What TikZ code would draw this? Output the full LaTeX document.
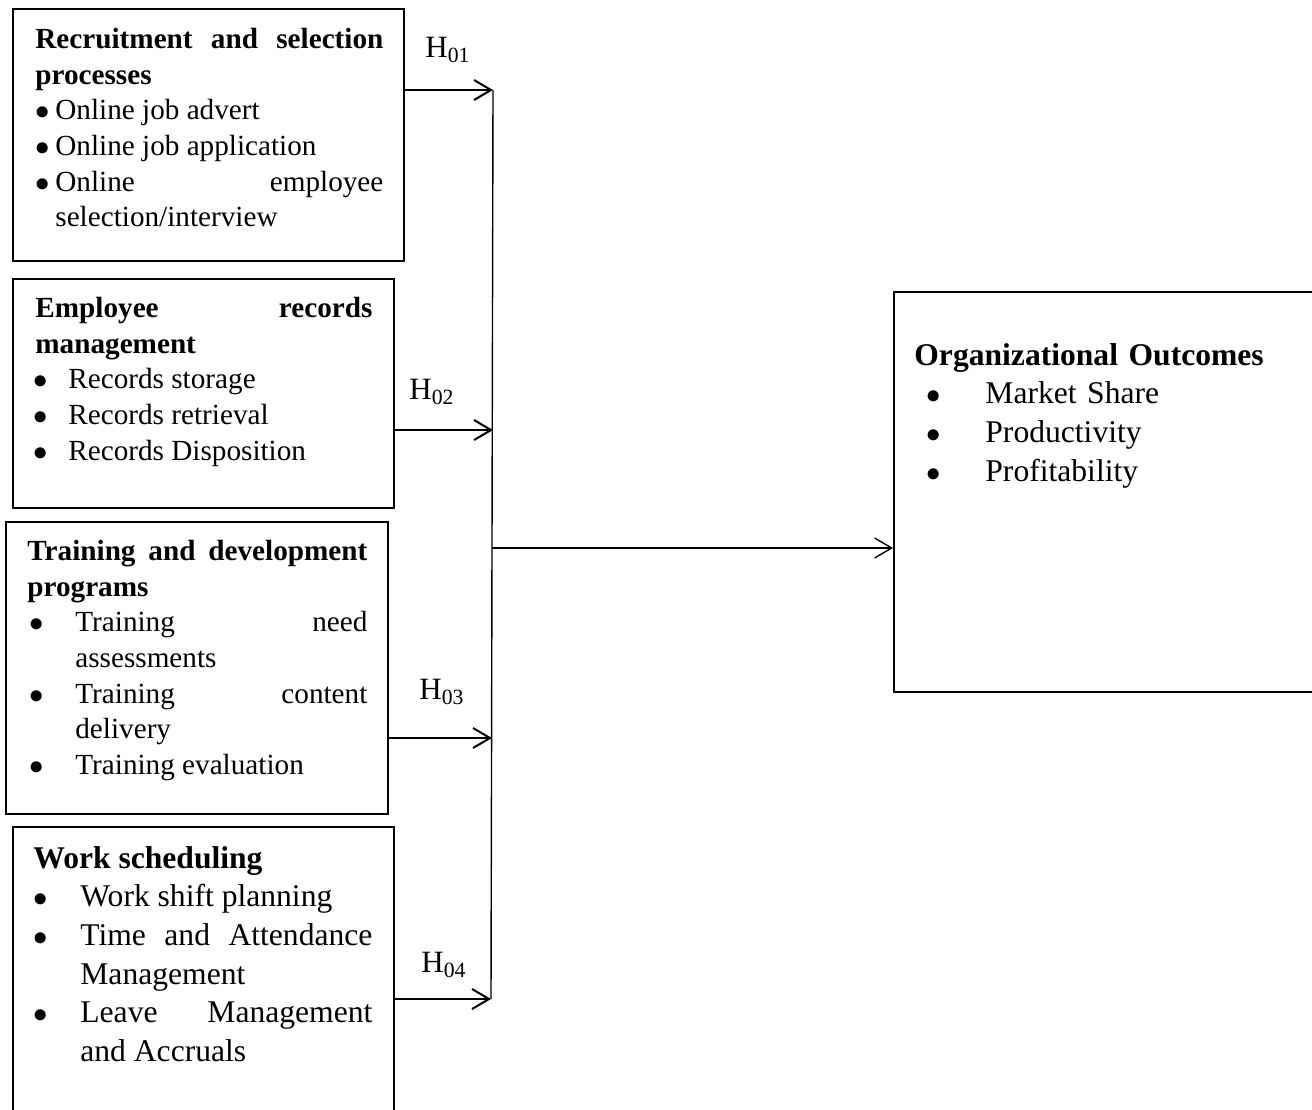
\documentclass[tikz,border=0pt]{standalone}
\usepackage{fontspec}
\setmainfont{Liberation Serif}
\usetikzlibrary{arrows.meta,positioning}
\setlength{\parindent}{0pt}
% bullet line: [bullet shift]{hang}{text}
\newcommand{\bitem}[3][0pt]{\par\noindent\hangindent=#2\hangafter=1\makebox[#2][l]{\hspace{#1}$\bullet$}#3\par}

\tikzset{
  box/.style={draw, line width=0.75pt, inner sep=0pt, anchor=north west},
  boxtext/.style={inner sep=0pt, anchor=north west, align=justify, font=\fontsize{14.6}{17.8}\selectfont},
  bigtext/.style={boxtext, font=\fontsize{15.8}{19.3}\selectfont},
  hlabel/.style={font=\fontsize{15.5}{18}\selectfont, inner sep=0pt},
  link/.style={->, line width=1pt},
  >={Straight Barb[length=8.5pt,width=10pt]}
}

\begin{document}
\begin{tikzpicture}[x=1pt, y=-1pt]
\useasboundingbox (0,0) rectangle (656,554.5);
\clip (0,0) rectangle (656,554.5);

% boxes
\node[box, minimum width=195.5pt, minimum height=126pt] (recruit) at (6,4) {};
\node[box, minimum width=190.5pt, minimum height=114.5pt] (records) at (6,139) {};
\node[box, minimum width=191pt, minimum height=146pt] (training) at (2.5,260.5) {};
\node[box, minimum width=190.5pt, minimum height=170pt] (schedule) at (6,413) {};
\node[box, minimum width=230pt, minimum height=200pt] (outcome) at (446.5,145.5) {};

% box contents
\node[boxtext, text width=174pt] (recruittxt) at ([shift={(11.5pt,-10pt)}]recruit.north west) {%
  \textbf{Recruitment and selection\linebreak processes}\par
  \bitem{10pt}{Online job advert}
  \bitem{10pt}{Online job application}
  \bitem{10pt}{Online employee\linebreak selection/interview}};
\node[boxtext, text width=168.5pt] (recordstxt) at ([shift={(11.5pt,-9.5pt)}]records.north west) {%
  \textbf{Employee records\linebreak management}\par
  \bitem[-1pt]{16.5pt}{Records storage}
  \bitem[-1pt]{16.5pt}{Records retrieval}
  \bitem[-1pt]{16.5pt}{Records Disposition}};
\node[boxtext, text width=170pt] (trainingtxt) at ([shift={(11pt,-9.5pt)}]training.north west) {%
  \textbf{Training and development\linebreak programs}\par
  \bitem[1pt]{24pt}{Training need\linebreak assessments}
  \bitem[1pt]{24pt}{Training content\linebreak delivery}
  \bitem[1pt]{24pt}{Training evaluation}};
\node[bigtext, text width=169.5pt] (scheduletxt) at ([shift={(10.5pt,-10pt)}]schedule.north west) {%
  \textbf{Work scheduling}\par
  \bitem{23.5pt}{Work shift planning}
  \bitem{23.5pt}{Time and Attendance\linebreak Management}
  \bitem{23.5pt}{Leave Management\linebreak and Accruals}};
\node[bigtext, text width=200pt, align=left] (outcometxt) at ([shift={(10.5pt,-26pt)}]outcome.north west) {%
  \textbf{Organizational Outcomes}\par
  \bitem[6pt]{35.5pt}{Market Share}
  \bitem[6pt]{35.5pt}{Productivity}
  \bitem[6pt]{35.5pt}{Profitability}};

% junction line and arrows
\coordinate (jtop) at (246.5,45);
\coordinate (j2) at (246.5,215);
\coordinate (j3) at (246,369);
\coordinate (jbot) at (245.5,499.5);
\coordinate (jmid) at (246,274);
\draw[line width=0.7pt] (jtop) -- (jbot);
\draw[link] (recruit.east |- jtop) -- (jtop);
\draw[link] (records.east |- j2) -- (j2);
\draw[link] (training.east |- j3) -- (j3);
\draw[link] (schedule.east |- jbot) -- (jbot);
\draw[link, line width=0.7pt] (jmid) -- (outcome.west |- jmid);

\node[hlabel] (h01) at (224,25) {H\textsubscript{01}};
\node[hlabel] (h02) at (216,196) {H\textsubscript{02}};
\node[hlabel] (h03) at (221,346) {H\textsubscript{03}};
\node[hlabel] (h04) at (222,482.5) {H\textsubscript{04}};
\end{tikzpicture}
\end{document}
